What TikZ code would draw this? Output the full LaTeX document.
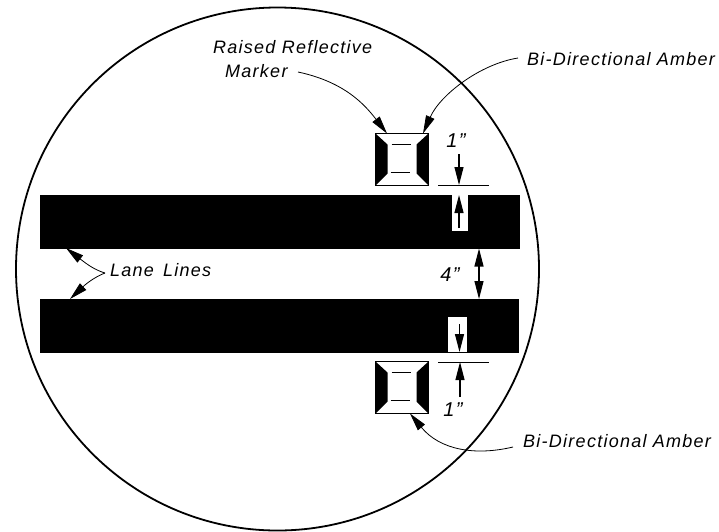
\documentclass[tikz,border=0pt]{standalone}
\usepackage{fontspec}
\setmainfont{Liberation Sans}[LetterSpace=7]
\usetikzlibrary{arrows.meta}
\tikzset{
  lbl/.style={inner sep=0pt,font=\fontsize{18}{24}\selectfont\itshape},
  dimlbl/.style={inner sep=0pt,font=\fontsize{20}{24}\selectfont\itshape},
  bar/.style={fill=black,draw=none},
  cutout/.style={fill=white,draw=none},
  bighead/.tip={Stealth[length=18pt,width=9pt,inset=0pt]},
  leader/.style={line width=0.8pt,-bighead},
  dimline/.style={line width=1pt},
  dimarrow/.style={line width=1.1pt,-bighead},
  dimboth/.style={line width=1.1pt,bighead-bighead},
  markerbox/.style={minimum width=53pt,minimum height=52pt,inner sep=0pt,outer sep=0pt,draw=black,line width=1.5pt,fill=white},
}
\newcommand{\markerart}[1]{%
  \fill (#1.north west) -- ++(12,11) -- ++(0,29) -- (#1.south west) -- cycle;
  \fill (#1.north east) -- ++(-12,11) -- ++(0,29) -- (#1.south east) -- cycle;
  \draw[line width=1.5pt] ([shift={(16,11)}]#1.north west) -- ++(19,0);
  \draw[line width=1.5pt] ([shift={(15,-13)}]#1.south west) -- ++(19,0);
}
\begin{document}
\begin{tikzpicture}[x=1pt,y=-1pt]
\useasboundingbox (0,0) rectangle (719,531);
\node[circle,draw=black,line width=1.8pt,minimum size=523pt,inner sep=0pt,outer sep=0pt] (ring) at (277.5,269) {};

\node[bar,minimum width=480pt,minimum height=53.5pt,inner sep=0pt,outer sep=0pt] (bartop) at (280,221.75) {};
\node[bar,minimum width=479.5pt,minimum height=53.5pt,inner sep=0pt,outer sep=0pt] (barbot) at (279.25,325.75) {};
\node[cutout,minimum width=16.5pt,minimum height=36pt,inner sep=0pt,outer sep=0pt] (cuttop) at (460,213) {};
\node[cutout,minimum width=19pt,minimum height=35pt,inner sep=0pt,outer sep=0pt] (cutbot) at (457.5,334.5) {};

\node[markerbox] (mtop) at (402,159.5) {};
\markerart{mtop}
\node[markerbox] (mbot) at (402,387.5) {};
\markerart{mbot}

% dimension extension lines
\coordinate (extTopL) at (438,185);
\coordinate (extTopR) at (489,185);
\coordinate (extBotL) at (438,362);
\coordinate (extBotR) at (489,362);
\draw[dimline] (extTopL) -- (extTopR);
\draw[dimline] (extBotL) -- (extBotR);

\coordinate (a1s) at (459,154);
\coordinate (a1e) at (459,185);
\coordinate (a2s) at (459,228);
\coordinate (a2e) at (459,195);
\coordinate (a3s) at (459.5,324);
\coordinate (a3e) at (459.5,352);
\coordinate (a4s) at (460,397);
\coordinate (a4e) at (460,362);
\draw[dimarrow] (a1s) -- (a1e);
\draw[dimarrow] (a2s) -- (a2e);
\draw[dimarrow] (a3s) -- (a3e);
\draw[dimarrow] (a4s) -- (a4e);
\coordinate (w1) at (479,248.5);
\coordinate (w2) at (479,299);
\draw[dimboth] (w1) -- (w2);

\node[dimlbl] (one1) at (456,141) {1"};
\node[dimlbl] (one2) at (453,410) {1"};
\node[dimlbl] (four) at (450,275) {4"};

\node[lbl,anchor=west,align=left] (raised) at (213,59) {Raised Reflective\\\hspace*{12pt}Marker};
\node[lbl,anchor=west] (amb1) at (527,59) {Bi-Directional Amber};
\node[lbl,anchor=west] (amb2) at (523,441) {Bi-Directional Amber};
\node[lbl,anchor=west] (lane) at (110,270) {Lane\,\,\,Lines};

\coordinate (rs) at (298,72);
\coordinate (as) at (518,58);
\coordinate (bs) at (513,447);
\coordinate (ls) at (105,273);
\coordinate (le1) at (66,248);
\coordinate (le2) at (70,299);
\coordinate (re) at (387,133.5);
\coordinate (ae) at (423,133.5);
\coordinate (be) at (410,413.5);
\draw[leader] (rs) .. controls (345,82) and (365,105) .. (re);
\draw[leader] (as) .. controls (480,64) and (440,95) .. (ae);
\draw[leader] (bs) .. controls (475,456) and (440,450) .. (be);
\draw[leader] (ls) .. controls (95,270) and (88,265) .. (le1);
\draw[leader] (ls) .. controls (97,276) and (88,282) .. (le2);
\end{tikzpicture}
\end{document}
